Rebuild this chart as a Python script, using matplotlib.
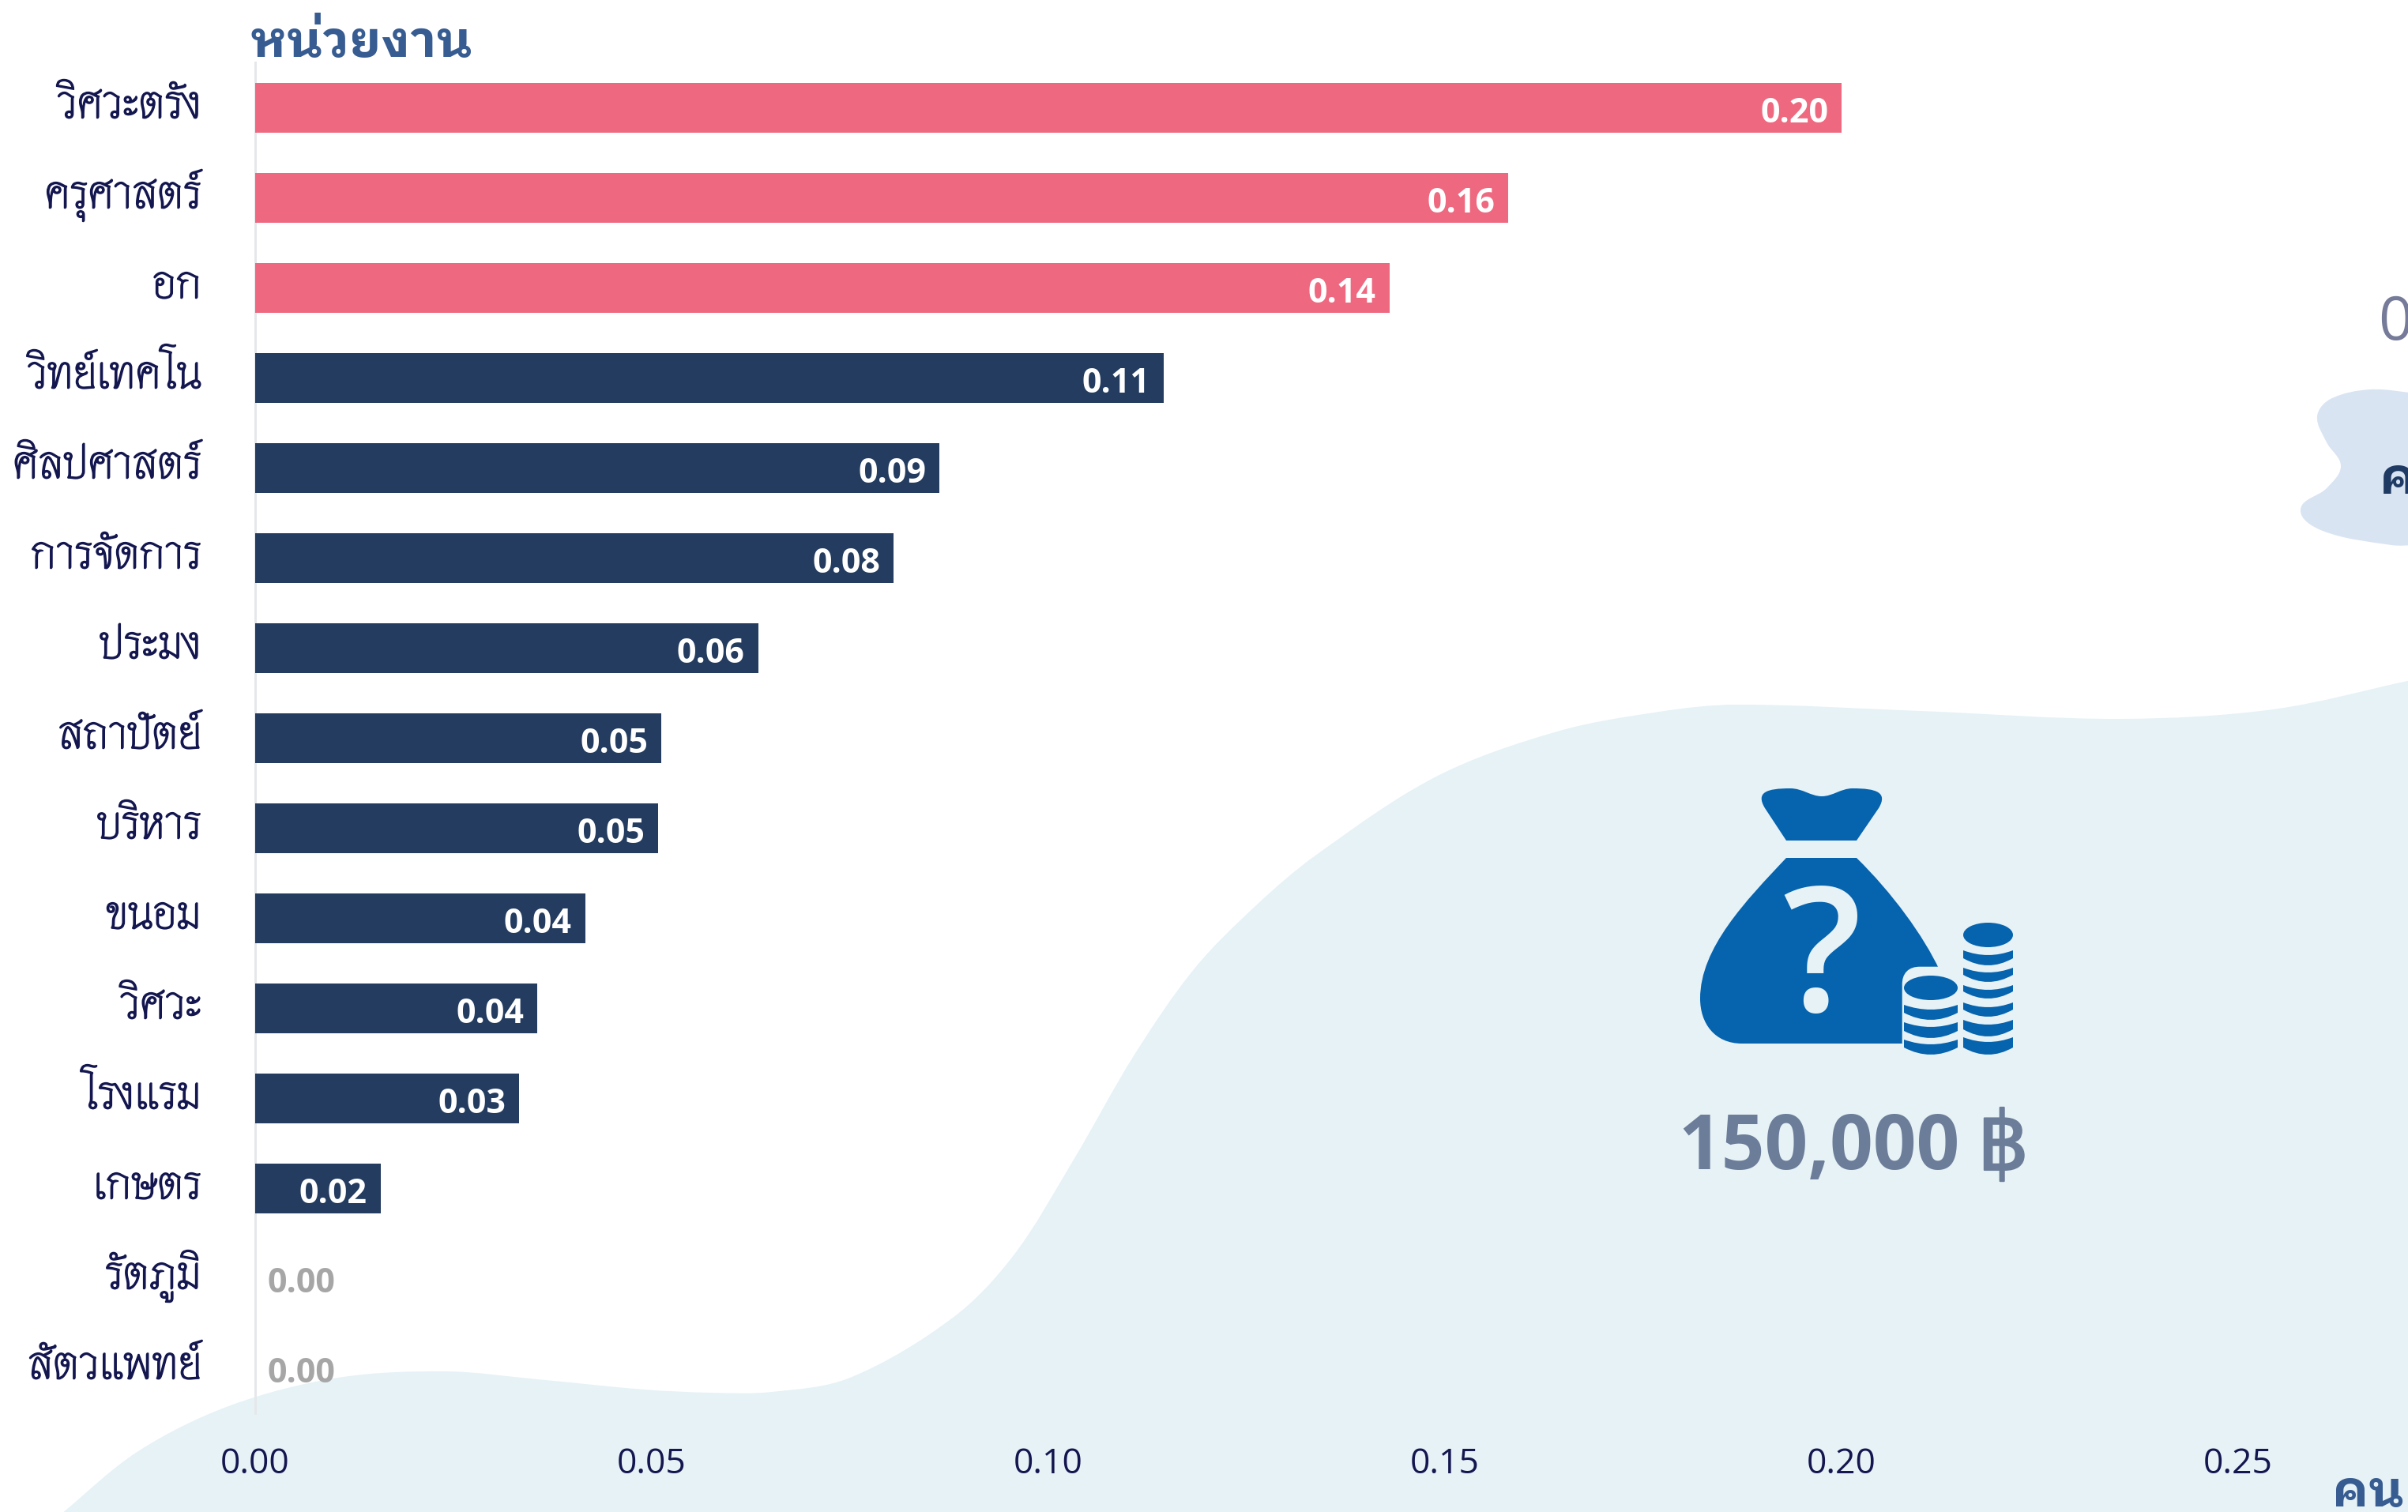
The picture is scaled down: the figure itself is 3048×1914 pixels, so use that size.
import numpy as np
import matplotlib
matplotlib.use('Agg')
import matplotlib.pyplot as plt
import matplotlib.patheffects as pe
from matplotlib.patches import PathPatch, Ellipse, FancyBboxPatch
from matplotlib.path import Path
from matplotlib.transforms import ScaledTranslation

# ---- data ----
categories = ['วิศวะตรัง', 'ครุศาสตร์', 'อก', 'วิทย์เทคโน', 'ศิลปศาสตร์', 'การจัดการ', 'ประมง',
              'สถาปัตย์', 'บริหาร', 'ขนอม', 'วิศวะ', 'โรงแรม', 'เกษตร', 'รัตภูมิ', 'สัตวแพทย์']
values = [0.200, 0.158, 0.143, 0.1145, 0.0863, 0.0805, 0.0634,
          0.0512, 0.0508, 0.0416, 0.0356, 0.0333, 0.0158, 0.0, 0.0]
highlight_count = 3
xticks = [0.00, 0.05, 0.10, 0.15, 0.20, 0.25]
title_text = 'หน่วยงาน'
xaxis_title = 'คน'
amount_text = '150,000'
currency_text = '฿'

# ---- styles ----
PINK, NAVY, ZERO_GREY = '#EE6880', '#233C5F', '#A6A6A6'
TICK_INK, TITLE_INK = '#14174F', '#375C91'
BLOB1, BLOB2, ICON = '#E6F2F6', '#D9E4F2', '#0663AE'
THAI = ['Thasadith', 'Noto Sans Thai Looped', 'DejaVu Sans']
THAI_BOLD = ['IBM Plex Sans Thai Looped', 'Loma', 'DejaVu Sans']
LATIN = ['Open Sans', 'DejaVu Sans']

W, H, DPI = 3048, 1914, 100
px = 72 / DPI
fig = plt.figure(figsize=(W / DPI, H / DPI), dpi=DPI, facecolor='white')

# pixel canvas for the decoration behind the chart
bg = fig.add_axes([0, 0, 1, 1], zorder=0)
bg.set_xlim(0, W)
bg.set_ylim(H, 0)
bg.axis('off')


def smooth_path(pts, close_pts=None):
    pts = np.array(pts, float)
    n = len(pts)
    tang = np.zeros_like(pts)
    for i in range(n):
        d = pts[min(i + 1, n - 1)] - pts[max(i - 1, 0)]
        tang[i] = d / np.hypot(*d)
    verts = [pts[0]]
    codes = [Path.MOVETO]
    for i in range(n - 1):
        seg = np.hypot(*(pts[i + 1] - pts[i])) / 3
        verts += [pts[i] + tang[i] * seg, pts[i + 1] - tang[i + 1] * seg, pts[i + 1]]
        codes += [Path.CURVE4] * 3
    for q in (close_pts or []):
        verts.append(q)
        codes.append(Path.LINETO)
    verts.append(pts[0])
    codes.append(Path.CLOSEPOLY)
    return Path(verts, codes)


blob1 = [(78, 1916), (175, 1837), (292, 1779), (428, 1744), (564, 1736), (680, 1746), (816, 1759),
         (900, 1763), (977, 1762), (1076, 1744), (1206, 1668), (1283, 1589), (1359, 1468), (1436, 1335),
         (1512, 1226), (1589, 1147), (1665, 1083), (1818, 983), (1971, 926), (2100, 901), (2197, 892),
         (2430, 900), (2683, 910), (2877, 898), (3052, 861)]
bg.add_patch(PathPatch(smooth_path(blob1, [(3060, 1920), (78, 1920)]), fc=BLOB1, ec='none'))
blob2 = [(3060, 498), (3000, 493), (2950, 505), (2933, 527), (2945, 560), (2963, 590), (2945, 618),
         (2912, 645), (2940, 672), (3027, 690), (3060, 690)]
bg.add_patch(PathPatch(smooth_path(blob2), fc=BLOB2, ec='none'))

# money bag icon
M, L, C = Path.MOVETO, Path.LINETO, Path.CURVE4
neck = [(2261, 1064), (2350, 1064), (2378, 1023), (2390, 1003), (2375, 998), (2345, 998),
        (2330, 998), (2320, 1008), (2306, 1008), (2292, 1008), (2282, 998), (2266, 998),
        (2236, 998), (2222, 1003), (2234, 1023), (2261, 1064)]
neck_codes = [M, L, L, C, C, C, C, C, C, C, C, C, C, C, C, L]
bg.add_patch(PathPatch(Path(neck, neck_codes), fc=ICON, ec='none'))
body = [(2261, 1086), (2350, 1086), (2395, 1130), (2435, 1185), (2455, 1228), (2460, 1321), (2205, 1321),
        (2170, 1321), (2152, 1295), (2152, 1264), (2152, 1200), (2210, 1140), (2261, 1086)]
body_codes = [M, L, C, C, C, L, L, C, C, C, C, C, C]
bg.add_patch(PathPatch(Path(body, body_codes), fc=ICON, ec='none'))
bg.add_patch(FancyBboxPatch((2414, 1230), 66, 115, boxstyle='round,pad=0,rounding_size=16',
                            mutation_aspect=1, fc=BLOB1, ec=BLOB1, lw=14 * px * 0.9))
bg.text(2306, 1280, '?', family=LATIN, weight='semibold', fontsize=158, color=BLOB1, ha='center', va='baseline')


def coin_stack(xl, xr, top, bands):
    cx = (xl + xr) / 2
    bg.add_patch(Ellipse((cx, (top[0] + top[1]) / 2), xr - xl, top[1] - top[0], fc=ICON, ec='none'))
    for y0, y1 in bands:
        verts = [(xl, y0), (cx, y0 + 12), (xr, y0), (xr, y1 - 7), (cx, y1 + 11), (xl, y1 - 7), (xl, y0)]
        codes = [M, Path.CURVE3, Path.CURVE3, L, Path.CURVE3, Path.CURVE3, L]
        bg.add_patch(PathPatch(Path(verts, codes), fc=ICON, ec='none'))


coin_stack(2410, 2478, (1235, 1266), [(1272, 1289), (1294, 1312), (1316, 1333)])
coin_stack(2485, 2548, (1168, 1199), [(1203, 1220), (1225, 1241), (1247, 1262), (1269, 1285), (1291, 1310), (1313, 1333)])
bg.text(2124, 1480, amount_text, family=LATIN, weight='bold', fontsize=69, color='#6C7D99', ha='left', va='baseline')
bg.text(2503, 1481, currency_text, family='DejaVu Sans', fontsize=74, color='#6C7D99', ha='left', va='baseline',
        path_effects=[pe.withStroke(linewidth=1.5, foreground='#6C7D99')])

# text partly off the right edge in the reference
bg.text(3010, 430, '0', family=LATIN, fontsize=55, color='#757B98', ha='left', va='baseline')
bg.text(3012, 625, 'ค', family=THAI_BOLD, weight='bold', fontsize=46, color='#1F3A63', ha='left', va='baseline')

# ---- chart ----
left, right, top, bottom = 323, W, 79.3, 1789.3
ax = fig.add_axes([left / W, 1 - bottom / H, (right - left) / W, (bottom - top) / H], zorder=1)
ax.patch.set_alpha(0)
y = np.arange(len(values))
colors = [PINK if i < highlight_count else NAVY for i in y]
ax.barh(y, values, height=63 / 114, color=colors, zorder=3)
ax.set_xlim(0, (right - left) / 10040)
ax.set_ylim(14.5, -0.5)
for sp in ('top', 'right', 'bottom'):
    ax.spines[sp].set_visible(False)
ax.spines['left'].set_color('#E6E7EA')
ax.spines['left'].set_linewidth(3 * px)

ax.tick_params(axis='x', length=0, pad=76 * px)
ax.tick_params(axis='y', length=0, pad=68 * px)
ax.set_xticks(xticks)
ax.set_xticklabels([f'{t:.2f}' for t in xticks], family=LATIN, fontsize=32, color=TICK_INK, va='baseline')
ax.set_yticks(y)
ax.set_yticklabels(categories, family=THAI, fontsize=42, color=TICK_INK, va='baseline')
shift = ScaledTranslation(0, -13 / DPI, fig.dpi_scale_trans)
for lab in ax.get_yticklabels():
    lab.set_transform(lab.get_transform() + shift)
    lab.set_path_effects([pe.withStroke(linewidth=1.1, foreground=TICK_INK)])

for yi, v in zip(y, values):
    if v > 0:
        ax.annotate(f'{v:.2f}', (v, yi), xytext=(-17 * px, -18.5 * px), textcoords='offset points',
                    ha='right', va='baseline', family=LATIN, weight='bold', fontsize=31, color='white', zorder=4)
    else:
        ax.annotate(f'{v:.2f}', (v, yi), xytext=(16 * px, -18 * px), textcoords='offset points',
                    ha='left', va='baseline', family=LATIN, weight='bold', fontsize=31, color=ZERO_GREY, zorder=4)

fig.text(317 / W, 1 - 72 / H, title_text, family=THAI_BOLD, weight='bold', fontsize=45.5, color=TITLE_INK,
         ha='left', va='baseline', zorder=5)
fig.text(2952 / W, 1 - 1907 / H, xaxis_title, family=THAI_BOLD, weight='bold', fontsize=45, color=TITLE_INK,
         ha='left', va='baseline', zorder=5)

fig.savefig('out.png', dpi=DPI, facecolor='white')
